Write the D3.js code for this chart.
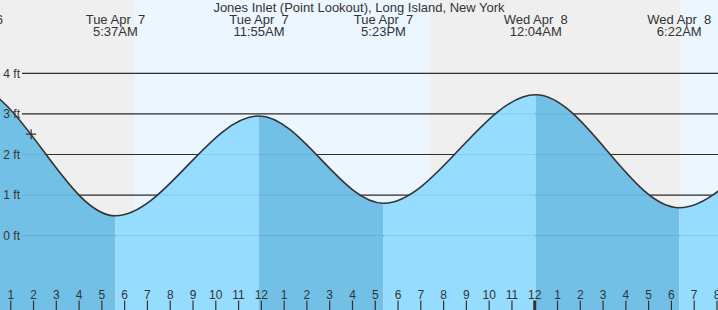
<!DOCTYPE html>
<html>
<head>
<meta charset="utf-8">
<script src="https://cdn.jsdelivr.net/npm/d3@7"></script>
<style>
  body { margin: 0; background: #fff; }
  svg { display: block; font-family: "Liberation Sans", Arial, sans-serif; }
  text { fill: #333; }
</style>
</head>
<body>
<div id="chart"></div>
<script>
const title = 'Jones Inlet (Point Lookout), Long Island, New York';

// predicted highs and lows (local time, ft)
const tideTimes = [
  '2020-04-06 17:05', '2020-04-06 23:18', '2020-04-07 05:37', '2020-04-07 11:55',
  '2020-04-07 17:23', '2020-04-08 00:04', '2020-04-08 06:22', '2020-04-08 12:40',
  '2020-04-08 18:50',
];
const tideLevels = [0.6, 3.68, 0.49, 2.95, 0.8, 3.47, 0.69, 2.95, 0.75];

// sunrise / sunset
const sunTimes = ['2020-04-07 06:28', '2020-04-07 19:25', '2020-04-08 06:26', '2020-04-08 19:26'];

const levelTicks = [0, 1, 2, 3, 4];
const nowMark = { time: '2020-04-07 01:55', level: 2.5 };

const viewStart = '2020-04-07 00:33';
const viewEnd = '2020-04-08 08:04';

const width = 718;
const height = 310;

const parse = d3.utcParse('%Y-%m-%d %H:%M');
const fmtDay = d3.utcFormat('%a %b %e');
const fmtTime = d3.utcFormat('%-I:%M%p');

const tides = tideTimes.map((t, i) => ({ time: parse(t), level: tideLevels[i] }));

const x = d3.scaleUtc().domain([parse(viewStart), parse(viewEnd)]).range([0, width]);
const y = d3.scaleLinear().domain([0, 4]).range([235.7, 73.3]);

const svg = d3.select('#chart').append('svg')
  .attr('width', width)
  .attr('height', height);

// night / day background
const edges = [x.domain()[0], ...sunTimes.map(parse), x.domain()[1]];
svg.selectAll('.sky')
  .data(d3.pairs(edges))
  .enter().append('rect')
  .attr('class', 'sky')
  .attr('x', (d) => x(d[0]))
  .attr('y', 0)
  .attr('width', (d) => Math.max(0, x(d[1]) - x(d[0])))
  .attr('height', height)
  .style('fill', (d, i) => (i % 2 === 0 ? '#efefef' : '#ebf6ff'));

// grid
svg.append('g').selectAll('line')
  .data(levelTicks)
  .enter().append('line')
  .attr('x1', 22)
  .attr('x2', width)
  .attr('y1', (d) => y(d))
  .attr('y2', (d) => y(d))
  .style('stroke', '#333')
  .style('stroke-width', 1.2);

// water, coloured by falling / rising tide
const area = d3.area()
  .x((d) => x(d.time))
  .y0(height)
  .y1((d) => y(d.level))
  .curve(d3.curveMonotoneX);

const defs = svg.append('defs');
const segments = d3.pairs(tides);
segments.forEach((seg, i) => {
  defs.append('clipPath')
    .attr('id', `seg-${i}`)
    .append('rect')
    .attr('x', x(seg[0].time))
    .attr('y', 0)
    .attr('width', x(seg[1].time) - x(seg[0].time))
    .attr('height', height);
});

svg.selectAll('.water')
  .data(segments)
  .enter().append('path')
  .attr('class', 'water')
  .attr('clip-path', (d, i) => `url(#seg-${i})`)
  .attr('d', area(tides))
  .style('fill', (d) => (d[1].level < d[0].level ? '#72c0e5' : '#96dcff'));

// faint grid lines showing through the water
svg.append('g').selectAll('line')
  .data(levelTicks)
  .enter().append('line')
  .attr('x1', 22)
  .attr('x2', width)
  .attr('y1', (d) => y(d))
  .attr('y2', (d) => y(d))
  .style('stroke', '#000')
  .style('stroke-opacity', 0.07)
  .style('stroke-width', 1.2);

// tide curve
const line = d3.line()
  .x((d) => x(d.time))
  .y((d) => y(d.level))
  .curve(d3.curveMonotoneX);

svg.append('path')
  .attr('d', line(tides))
  .style('fill', 'none')
  .style('stroke', '#333')
  .style('stroke-width', 1.6);

// level labels
svg.append('g').selectAll('text')
  .data(levelTicks)
  .enter().append('text')
  .attr('x', 20)
  .attr('y', (d) => y(d))
  .attr('dy', '.35em')
  .style('text-anchor', 'end')
  .style('font-size', '12px')
  .text((d) => `${d} ft`);

// current time marker
const mx = x(parse(nowMark.time));
const my = y(nowMark.level);
svg.append('path')
  .attr('d', `M${mx - 5},${my}H${mx + 5}M${mx},${my - 5}V${my + 5}`)
  .style('stroke', '#333')
  .style('stroke-width', 1.2);

// hour axis
const xAxis = d3.axisTop(x)
  .ticks(d3.utcHour.every(1))
  .tickSize(9.5)
  .tickPadding(2)
  .tickFormat((d) => (d.getUTCHours() % 12) || 12);

const axis = svg.append('g')
  .attr('transform', `translate(0,${height})`)
  .call(xAxis);

axis.select('.domain').remove();
axis.selectAll('.tick line')
  .style('stroke', '#333')
  .style('stroke-width', (d) => (d.getUTCHours() === 0 ? 3 : 1.2));
axis.selectAll('.tick text')
  .attr('dy', '0')
  .style('fill', '#333')
  .style('font-size', '12px')
  .style('font-family', '"Liberation Sans", Arial, sans-serif');

// high / low labels (only those reaching into view)
const labels = svg.append('g').selectAll('g')
  .data(tides.filter((d) => x(d.time) > -45 && x(d.time) < width + 45))
  .enter().append('g')
  .attr('transform', (d) => `translate(${x(d.time)},0)`);

labels.append('text')
  .attr('y', 24)
  .style('text-anchor', 'middle')
  .style('font-size', '13px')
  .style('white-space', 'pre')
  .text((d) => fmtDay(d.time));

labels.append('text')
  .attr('y', 36)
  .style('text-anchor', 'middle')
  .style('font-size', '13px')
  .text((d) => fmtTime(d.time));

// title
svg.append('text')
  .attr('x', width / 2)
  .attr('y', 11.5)
  .style('text-anchor', 'middle')
  .style('font-size', '13px')
  .text(title);
</script>
</body>
</html>
